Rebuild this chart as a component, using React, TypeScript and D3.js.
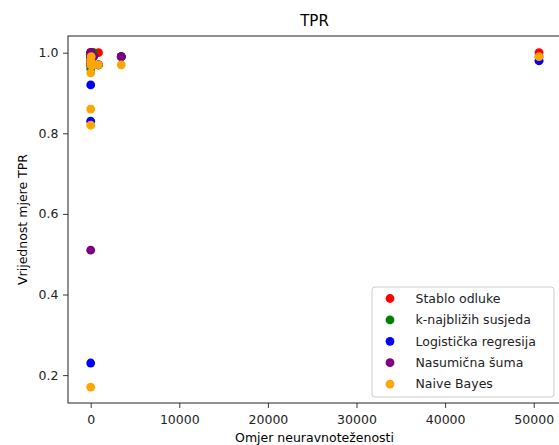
import React, {useEffect, useRef} from 'react';
import * as d3 from 'd3';

// imbalance ratio of each dataset (shared by all models)
const ratios = [1.1, 1.9, 3.5, 8, 16, 30, 60, 300, 880, 3450, 50600];
const stablo = [0.98, 0.97, 0.99, 1.0, 1.0, 1.0, 1.0, 1.0, 1.0, 0.99, 1.0];
const knn = [0.97, 0.96, 0.99, 1.0, 0.99, 1.0, 1.0, 1.0, 0.97, 0.99, 0.98];
const logreg = [0.23, 0.83, 0.92, 0.97, 0.98, 0.99, 0.995, 0.99, 0.97, 0.99, 0.98];
const suma = [0.51, 0.97, 0.99, 1.0, 1.0, 1.0, 1.0, 0.99, 0.97, 0.99, 0.99];
const bayes = [0.17, 0.82, 0.86, 0.95, 0.97, 0.98, 0.99, 0.97, 0.97, 0.97, 0.99];

const seriesNames = ['Stablo odluke', 'k-najbližih susjeda', 'Logistička regresija', 'Nasumična šuma', 'Naive Bayes'];
const seriesColors = ['red', 'green', 'blue', 'purple', 'orange'];
const seriesValues = [stablo, knn, logreg, suma, bayes];
const xTicks = [0, 10000, 20000, 30000, 40000, 50000];
const yTicks = [0.2, 0.4, 0.6, 0.8, 1.0];

const W = 559, H = 445;
const left = 68, right = 561, top = 36, bottom = 403;
const font = 'DejaVu Sans, sans-serif';

export default function App() {
  const svgRef = useRef<SVGSVGElement>(null);

  useEffect(() => {
    const svg = d3.select(svgRef.current);
    svg.selectAll('*').remove();

    const x = d3.scaleLinear().domain([-2560, 53080]).range([left, right]);
    const y = d3.scaleLinear().domain([0.1308, 1.0414]).range([bottom, top]);

    // points, drawn series by series like matplotlib
    seriesValues.forEach((vals, si) => {
      svg.append('g')
        .selectAll('circle')
        .data(vals)
        .join('circle')
        .attr('cx', (d, i) => x(ratios[i]))
        .attr('cy', d => y(d))
        .attr('r', 4.4)
        .attr('fill', seriesColors[si]);
    });

    // axes
    const xAxis = d3.axisBottom(x).tickValues(xTicks).tickFormat(d3.format('d')).tickSize(5).tickPadding(7);
    const yAxis = d3.axisLeft(y).tickValues(yTicks).tickFormat(d3.format('.1f')).tickSize(5).tickPadding(4.5);
    const gx = svg.append('g').attr('transform', `translate(0,${bottom})`).call(xAxis);
    const gy = svg.append('g').attr('transform', `translate(${left},0)`).call(yAxis);
    [gx, gy].forEach(g => {
      g.select('.domain').remove();
      g.selectAll('text').attr('font-family', font).attr('font-size', 12.5).attr('fill', '#222');
      g.selectAll('line').attr('stroke', '#222').attr('stroke-width', 0.9);
    });

    // spines
    svg.append('rect')
      .attr('x', left).attr('y', top)
      .attr('width', right - left).attr('height', bottom - top)
      .attr('fill', 'none').attr('stroke', '#222').attr('stroke-width', 1);

    // titles
    svg.append('text').attr('x', (left + right) / 2).attr('y', 26)
      .attr('text-anchor', 'middle').attr('font-family', font).attr('font-size', 15)
      .text('TPR');
    svg.append('text').attr('x', (left + right) / 2).attr('y', 442)
      .attr('text-anchor', 'middle').attr('font-family', font).attr('font-size', 12.5)
      .text('Omjer neuravnoteženosti');
    svg.append('text')
      .attr('transform', `translate(27,${(top + bottom) / 2}) rotate(-90)`)
      .attr('text-anchor', 'middle').attr('font-family', font).attr('font-size', 12.5)
      .text('Vrijednost mjere TPR');

    // legend
    const lg = svg.append('g');
    lg.append('rect')
      .attr('x', 372).attr('y', 287).attr('width', 182).attr('height', 110)
      .attr('rx', 3).attr('fill', 'white').attr('fill-opacity', 0.8)
      .attr('stroke', '#ccc').attr('stroke-width', 1);
    seriesNames.forEach((name, i) => {
      const yy = 298.5 + i * 21.4;
      lg.append('circle').attr('cx', 390).attr('cy', yy).attr('r', 4.4).attr('fill', seriesColors[i]);
      lg.append('text').attr('x', 415.5).attr('y', yy).attr('dy', '0.35em')
        .attr('font-family', font).attr('font-size', 12.5).attr('fill', '#222')
        .text(name);
    });
  }, []);

  return (
    <svg ref={svgRef} width={W} height={H}
      style={{position: 'absolute', left: 0, top: 0, background: 'white'}} />
  );
}
